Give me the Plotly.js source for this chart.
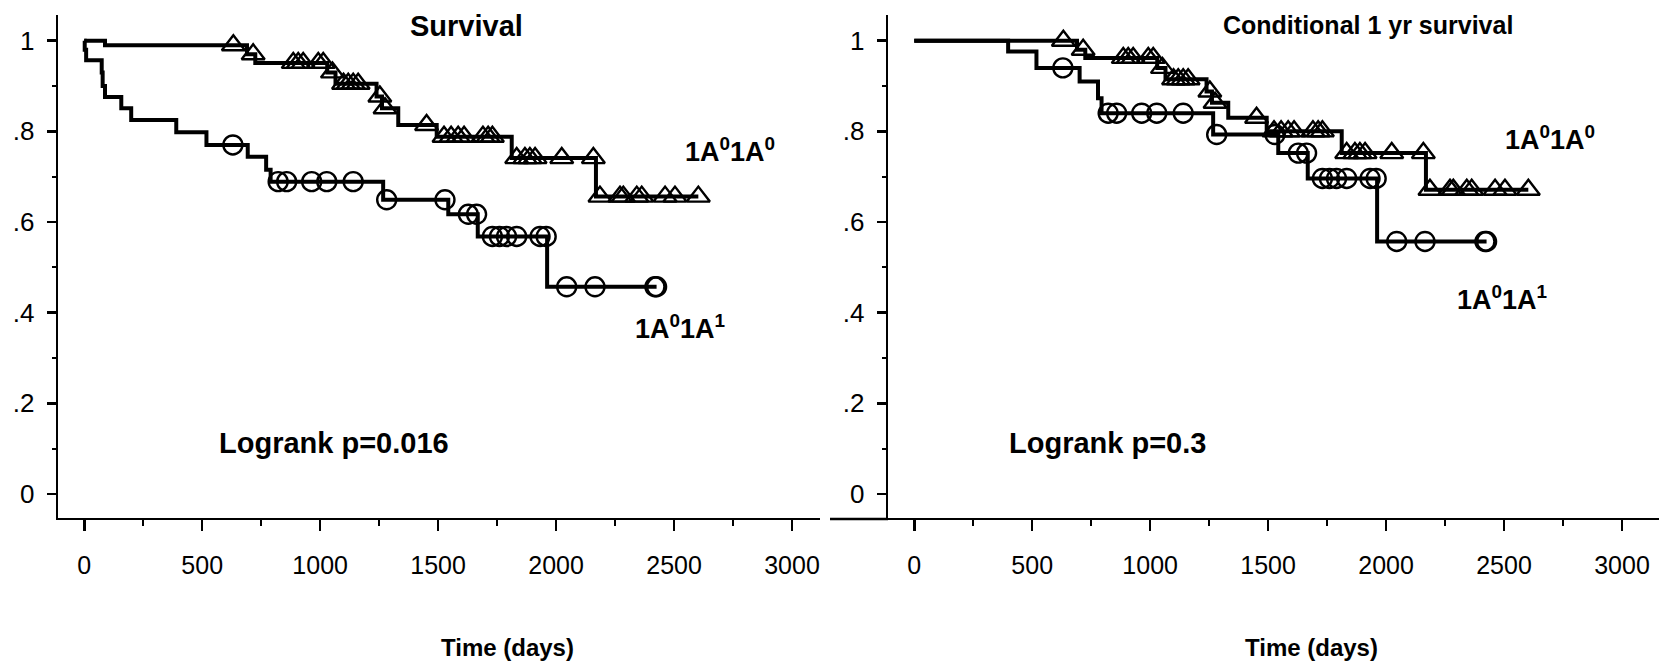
<!DOCTYPE html>
<html>
<head>
<meta charset="utf-8">
<script src="https://cdn.plot.ly/plotly-3.0.1.min.js"></script>
<style>html,body{margin:0;padding:0;background:#fff;}#chart{width:1659px;height:665px;}</style>
</head>
<body>
<div id="chart"></div>
<script>
// ---------- DATA ----------
// Left panel: Survival
const survA0_stepT = [0, 88, 690, 725, 1030, 1065, 1239, 1262, 1331, 1494, 1812, 2169];
const survA0_stepV = [1.0, 0.99, 0.97, 0.951, 0.93, 0.905, 0.877, 0.851, 0.814, 0.788, 0.741, 0.656];
const survA0_censT = [632, 716, 886, 907, 928, 992, 1013, 1052, 1099, 1119, 1140, 1161, 1253, 1275, 1451,
  1525, 1555, 1585, 1610, 1690, 1712, 1730, 1833, 1868, 1889, 1911, 2024, 2158,
  2186, 2271, 2285, 2342, 2363, 2462, 2504, 2603];
const survA0_censV = [0.99, 0.97, 0.951, 0.951, 0.951, 0.951, 0.951, 0.93, 0.905, 0.905, 0.905, 0.905, 0.877, 0.851, 0.814,
  0.788, 0.788, 0.788, 0.788, 0.788, 0.788, 0.788, 0.741, 0.741, 0.741, 0.741, 0.741, 0.741,
  0.656, 0.656, 0.656, 0.656, 0.656, 0.656, 0.656, 0.656];

const survA1_stepT = [0, 2, 8, 74, 78, 88, 157, 199, 390, 518, 693, 771, 790, 1267, 1543, 1668, 1962];
const survA1_stepV = [1.0, 0.98, 0.957, 0.93, 0.90, 0.876, 0.851, 0.825, 0.798, 0.77, 0.744, 0.715, 0.689, 0.649, 0.617, 0.568, 0.457];
const survA1_censT = [630, 822, 858, 964, 1028, 1140, 1282, 1529, 1628, 1663, 1730, 1760, 1790, 1833, 1932, 1958, 2045, 2165, 2419, 2426];
const survA1_censV = [0.77, 0.689, 0.689, 0.689, 0.689, 0.689, 0.649, 0.649, 0.617, 0.617, 0.568, 0.568, 0.568, 0.568, 0.568, 0.568, 0.457, 0.457, 0.457, 0.457];

// Right panel: Conditional 1 yr survival
const condA0_stepT = [0, 690, 725, 1030, 1065, 1239, 1262, 1331, 1494, 1812, 2169];
const condA0_stepV = [1.0, 0.98, 0.962, 0.94, 0.915, 0.888, 0.863, 0.83, 0.80, 0.752, 0.671];
const condA0_censT = [632, 716, 886, 907, 928, 992, 1013, 1052, 1099, 1119, 1140, 1161, 1253, 1275, 1451,
  1525, 1555, 1585, 1610, 1690, 1712, 1730, 1833, 1868, 1889, 1911, 2024, 2158,
  2186, 2271, 2285, 2342, 2363, 2462, 2504, 2603];
const condA0_censV = [1.0, 0.98, 0.962, 0.962, 0.962, 0.962, 0.962, 0.94, 0.915, 0.915, 0.915, 0.915, 0.888, 0.863, 0.83,
  0.80, 0.80, 0.80, 0.80, 0.80, 0.80, 0.80, 0.752, 0.752, 0.752, 0.752, 0.752, 0.752,
  0.671, 0.671, 0.671, 0.671, 0.671, 0.671, 0.671, 0.671];

const condA1_stepT = [0, 398, 518, 701, 779, 794, 1267, 1543, 1668, 1962];
const condA1_stepV = [1.0, 0.976, 0.94, 0.91, 0.873, 0.84, 0.793, 0.752, 0.696, 0.557];
const condA1_censT = [630, 822, 858, 964, 1028, 1140, 1282, 1529, 1628, 1663, 1730, 1760, 1790, 1833, 1932, 1958, 2045, 2165, 2419, 2426];
const condA1_censV = [0.94, 0.84, 0.84, 0.84, 0.84, 0.84, 0.793, 0.793, 0.752, 0.752, 0.696, 0.696, 0.696, 0.696, 0.696, 0.696, 0.557, 0.557, 0.557, 0.557];

const yTickVals = [0, 0.2, 0.4, 0.6, 0.8, 1];
const yTickText = ["0", ".2", ".4", ".6", ".8", "1"];
const yMinorVals = [0.1, 0.3, 0.5, 0.7, 0.9];
const xTickVals = [0, 500, 1000, 1500, 2000, 2500, 3000];
const xMinorVals = [250, 750, 1250, 1750, 2250, 2750];

const titles = ["Survival", "Conditional 1 yr survival"];
const pTexts = ["Logrank p=0.016", "Logrank p=0.3"];
const groupLabels = ["1A<sup>0</sup>1A<sup>0</sup>", "1A<sup>0</sup>1A<sup>1</sup>"];
const xTitle = "Time (days)";

// ---------- BUILD ----------
const FONT = "Liberation Sans, Arial, Helvetica, sans-serif";
const W = 1659, H = 665;
const px = v => v / W, py = v => 1 - v / H;
const LW = 2.6;            // axis line width
const AX_Y = 519, TOP = 15; // x-axis line (px) and top of y-axis

function curve(stepT, stepV, censT, xa, ya) {
  const endT = Math.max(...censT, ...stepT);
  return {
    x: stepT.concat([endT]), y: stepV.concat([stepV[stepV.length - 1]]),
    xaxis: xa, yaxis: ya, mode: 'lines', line: {shape: 'hv', color: 'black', width: 4},
    hoverinfo: 'skip'
  };
}
function marks(censT, censV, symbol, size, xa, ya) {
  return {
    x: censT, y: censV, xaxis: xa, yaxis: ya, mode: 'markers',
    marker: {symbol: symbol, size: size, color: 'black', line: {color: 'black', width: 2.4}},
    hoverinfo: 'skip'
  };
}

const data = [
  curve(survA0_stepT, survA0_stepV, survA0_censT, 'x', 'y'),
  curve(survA1_stepT, survA1_stepV, survA1_censT, 'x', 'y'),
  marks(survA0_censT, survA0_censV, 'triangle-up-open', 20, 'x', 'y'),
  marks(survA1_censT, survA1_censV, 'circle-open', 19, 'x', 'y'),
  curve(condA0_stepT, condA0_stepV, condA0_censT, 'x2', 'y2'),
  curve(condA1_stepT, condA1_stepV, condA1_censT, 'x2', 'y2'),
  marks(condA0_censT, condA0_censV, 'triangle-up-open', 20, 'x2', 'y2'),
  marks(condA1_censT, condA1_censV, 'circle-open', 19, 'x2', 'y2')
];

function xAxis(domain, range, anchor) {
  return {
    domain: domain, range: range, anchor: anchor,
    tickmode: 'array', tickvals: xTickVals, ticktext: xTickVals.map(String),
    ticks: 'outside', ticklen: 11, tickwidth: 2.5, tickcolor: 'black',
    minor: {tickmode: 'array', tickvals: xMinorVals, ticks: 'outside', ticklen: 6, tickwidth: 2, tickcolor: 'black', showgrid: false},
    showline: true, linewidth: LW, linecolor: 'black', mirror: false,
    showgrid: false, zeroline: false, ticklabelstandoff: 13,
    tickfont: {family: FONT, size: 25, color: 'black'}, fixedrange: true
  };
}
function yAxis(anchor) {
  return {
    domain: [1 - (AX_Y - LW / 2) / H, 1 - TOP / H], range: [-0.0525, 1.0567], anchor: anchor,
    tickmode: 'array', tickvals: yTickVals, ticktext: yTickText,
    ticks: 'outside', ticklen: 9, tickwidth: 2.5, tickcolor: 'black',
    minor: {tickmode: 'array', tickvals: yMinorVals, ticks: 'outside', ticklen: 4, tickwidth: 2, tickcolor: 'black', showgrid: false},
    showline: true, linewidth: LW, linecolor: 'black',
    showgrid: false, zeroline: false, ticklabelstandoff: 7,
    tickfont: {family: FONT, size: 26, color: 'black'}, fixedrange: true
  };
}

function ann(text, x, y, size, xanchor) {
  return {text: text, x: px(x), y: py(y), xref: 'paper', yref: 'paper', xanchor: xanchor || 'left', yanchor: 'middle',
    showarrow: false, font: {family: FONT, size: size, color: 'black', weight: 'bold'}};
}

const layout = {
  width: W, height: H, margin: {l: 0, r: 0, t: 0, b: 0},
  paper_bgcolor: 'white', plot_bgcolor: 'white', showlegend: false,
  font: {family: FONT, color: 'black'},
  xaxis: xAxis([(57 + LW / 2) / W, 820 / W], [-110, 3118.7], 'y'),
  yaxis: yAxis('x'),
  xaxis2: xAxis([(887 + LW / 2) / W, 1], [-110, 3156.9], 'y2'),
  yaxis2: yAxis('x2'),
  shapes: [
    {type: 'line', xref: 'paper', yref: 'paper', x0: px(830), x1: px(888), y0: py(AX_Y), y1: py(AX_Y), line: {color: 'black', width: LW}}
  ],
  annotations: [
    ann(titles[0], 408, 26, 29),
    ann(titles[1], 1221, 25, 25),
    ann(pTexts[0], 217, 443, 29),
    ann(pTexts[1], 1007, 443, 29),
    ann(groupLabels[0], 683, 150, 27),
    ann(groupLabels[1], 633, 327, 27),
    ann(groupLabels[0], 1503, 138, 27),
    ann(groupLabels[1], 1455, 298, 27),
    ann(xTitle, 507, 647, 24, 'center'),
    ann(xTitle, 1311, 647, 24, 'center')
  ]
};

Plotly.newPlot('chart', data, layout, {staticPlot: true, displayModeBar: false});
</script>
</body>
</html>
